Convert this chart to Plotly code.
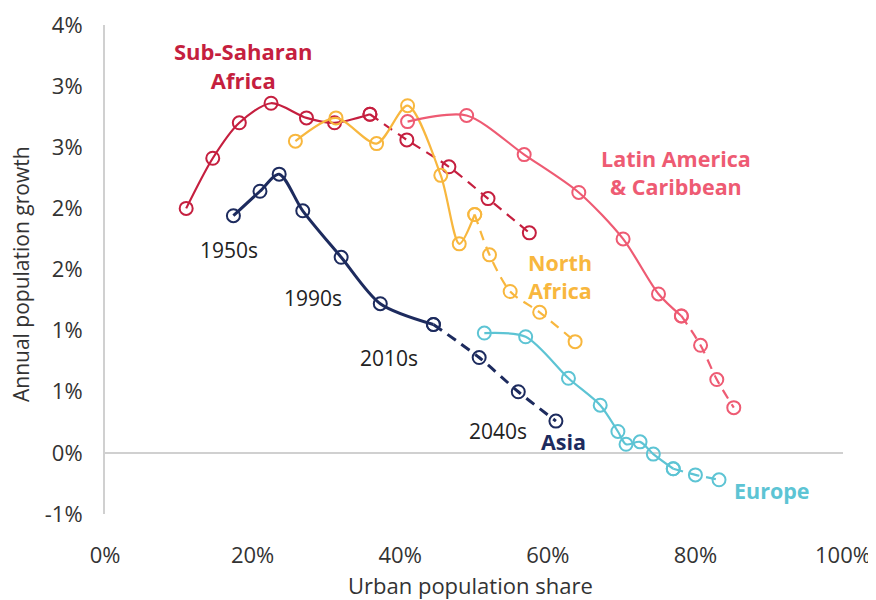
import plotly.graph_objects as go

# ---- data (urban share %, annual growth %) ----
ssa_x = [11.0, 14.6, 18.2, 22.5, 27.3, 31.1, 35.9, 40.9, 46.6, 51.9, 57.5]
ssa_y = [2.00, 2.41, 2.70, 2.86, 2.74, 2.70, 2.77, 2.56, 2.34, 2.08, 1.80]
ssa_solid = 7

asia_x = [17.4, 21.0, 23.6, 26.8, 32.0, 37.3, 44.5, 50.7, 56.0, 61.1]
asia_y = [1.94, 2.14, 2.28, 1.98, 1.60, 1.22, 1.05, 0.78, 0.50, 0.26]
asia_solid = 7

nafr_x = [25.8, 31.3, 36.8, 41.0, 45.5, 48.0, 50.1, 52.1, 54.9, 58.9, 63.7]
nafr_y = [2.55, 2.74, 2.53, 2.84, 2.27, 1.71, 1.95, 1.62, 1.32, 1.15, 0.91]
nafr_solid = 7

lac_x = [41.0, 49.0, 56.8, 64.2, 70.2, 75.0, 78.1, 80.7, 82.9, 85.2]
lac_y = [2.71, 2.76, 2.44, 2.13, 1.75, 1.30, 1.12, 0.88, 0.60, 0.37]
lac_solid = 7

eur_x = [51.4, 57.0, 62.8, 67.1, 69.5, 70.6, 72.5, 74.3, 77.0, 80.0, 83.2]
eur_y = [0.98, 0.95, 0.61, 0.39, 0.175, 0.07, 0.09, -0.01, -0.13, -0.18, -0.22]
eur_solid = 9

y_tickvals = [-0.5, 0, 0.5, 1.0, 1.5, 2.0, 2.5, 3.0, 3.5]
y_ticktext = ["-1%", "0%", "1%", "1%", "2%", "2%", "3%", "3%", "4%"]
x_tickvals = [0, 20, 40, 60, 80, 100]
x_ticktext = ["0%", "20%", "40%", "60%", "80%", "100%"]

C_SSA = "#C51F3F"
C_ASIA = "#1D2B5E"
C_NAFR = "#F8B73E"
C_LAC = "#EE5B73"
C_EUR = "#5DC4D4"

series = [
    (ssa_x, ssa_y, ssa_solid, C_SSA, 2.2),
    (nafr_x, nafr_y, nafr_solid, C_NAFR, 2.2),
    (lac_x, lac_y, lac_solid, C_LAC, 2.2),
    (eur_x, eur_y, eur_solid, C_EUR, 2.2),
    (asia_x, asia_y, asia_solid, C_ASIA, 3.0),
]

fig = go.Figure()
for xs, ys, k, col, lw in series:
    marker = dict(symbol="circle-open", size=13, color=col, line=dict(width=2, color=col))
    fig.add_trace(go.Scatter(
        x=xs[:k], y=ys[:k], mode="lines+markers",
        line=dict(color=col, width=lw, shape="spline", smoothing=0.8),
        marker=marker, hoverinfo="skip", showlegend=False))
    fig.add_trace(go.Scatter(
        x=xs[k - 1:], y=ys[k - 1:], mode="lines+markers",
        line=dict(color=col, width=lw, dash="10px,7px", shape="spline", smoothing=0.8),
        marker=marker, hoverinfo="skip", showlegend=False))

FONT = "'Open Sans', 'Noto Sans', sans-serif"
TXT = "#333333"

def lab(text, x, y, col, size=20, bold=True):
    fig.add_annotation(
        x=x, y=y, xref="x", yref="y", showarrow=False,
        text=f"<b>{text}</b>" if bold else text,
        font=dict(family=FONT, size=size, color=col), align="center")

lab("Sub-Saharan<br>Africa", 18.7, 3.17, C_SSA, 22)
lab("Latin America<br>& Caribbean", 77.4, 2.29, C_LAC, 21.5)
lab("North<br>Africa", 61.6, 1.44, C_NAFR, 21.5)
lab("Asia", 62.1, 0.09, C_ASIA, 21.5)
lab("Europe", 90.4, -0.31, C_EUR, 21.5)
lab("1950s", 16.8, 1.66, "#222222", 21, bold=False)
lab("1990s", 28.2, 1.27, "#222222", 21, bold=False)
lab("2010s", 38.5, 0.78, "#222222", 21, bold=False)
lab("2040s", 53.2, 0.18, "#222222", 21, bold=False)

# axis titles as annotations (fixed placement)
fig.add_annotation(x=0.495, y=-0.145, xref="paper", yref="paper", showarrow=False,
                   text="Urban population share", xanchor="center", yanchor="middle",
                   font=dict(family=FONT, size=22, color=TXT))
fig.add_annotation(x=-0.113, y=0.49, xref="paper", yref="paper", showarrow=False,
                   text="Annual population growth", textangle=-90,
                   xanchor="center", yanchor="middle",
                   font=dict(family=FONT, size=21, color=TXT))

# page body has an 8px default margin, so offset the plot area to match
fig.update_layout(
    width=876, height=600,
    margin=dict(l=97, r=41, t=17, b=94, autoexpand=False),
    paper_bgcolor="white", plot_bgcolor="white",
    font=dict(family=FONT, color=TXT, size=21),
)
fig.update_xaxes(
    range=[0, 100], tickvals=x_tickvals, ticktext=x_ticktext,
    showgrid=False, zeroline=False, showline=False, automargin=False,
    ticks="outside", ticklen=22, tickcolor="rgba(0,0,0,0)",
    tickfont=dict(size=22, color=TXT),
)
fig.update_yaxes(
    range=[-0.5, 3.5], tickvals=y_tickvals, ticktext=y_ticktext,
    showgrid=False, zeroline=True, zerolinecolor="#D0D0D0", zerolinewidth=2,
    showline=True, linecolor="#D0D0D0", linewidth=2, automargin=False,
    ticks="outside", ticklen=16, tickcolor="rgba(0,0,0,0)",
    tickfont=dict(size=22, color=TXT),
)

fig.write_html("out.html")
